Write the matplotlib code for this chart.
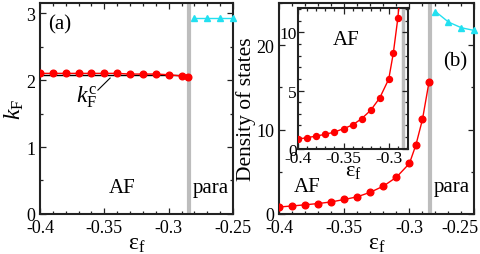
import matplotlib
matplotlib.use("Agg")
import matplotlib.pyplot as plt
import matplotlib.transforms as mtransforms
from matplotlib.ticker import MultipleLocator, FuncFormatter

plt.rcParams['font.family'] = ['Liberation Serif', 'DejaVu Serif']
plt.rcParams['mathtext.fontset'] = 'custom'
plt.rcParams['mathtext.rm'] = 'Liberation Serif'
plt.rcParams['mathtext.it'] = 'Liberation Serif:italic'
plt.rcParams['mathtext.bf'] = 'Liberation Serif:bold'

# ---- data ----
ef_af_a = [-0.40, -0.39, -0.38, -0.37, -0.36, -0.35, -0.34, -0.33, -0.32, -0.31, -0.30, -0.29, -0.285]
kf_af = [2.10, 2.10, 2.10, 2.10, 2.10, 2.10, 2.10, 2.09, 2.09, 2.09, 2.08, 2.06, 2.04]
kfc_x = [-0.40, -0.285]
kfc_y = [2.07, 2.07]
ef_para = [-0.28, -0.27, -0.26, -0.25]
kf_para = [2.92, 2.92, 2.92, 2.92]

ef_af_b = [-0.40, -0.39, -0.38, -0.37, -0.36, -0.35, -0.34, -0.33, -0.32, -0.31, -0.30, -0.295, -0.29, -0.285]
dos_af = [0.83, 0.95, 1.09, 1.24, 1.43, 1.72, 2.04, 2.58, 3.3, 4.36, 5.99, 8.2, 11.2, 15.6]
dos_para = [24.0, 22.75, 22.07, 21.75]

ef_transition = -0.284

red = '#ff0000'
cyan = '#22e0f0'
gray = '#bdbdbd'

fig = plt.figure(figsize=(4.8, 2.55), dpi=100)
axa = fig.add_axes([0.0833, 0.157, 0.4021, 0.827])
axb = fig.add_axes([0.582, 0.157, 0.4065, 0.827])
axi = fig.add_axes([0.6215, 0.413, 0.228, 0.552])

def style(ax, fs=13):
    for s in ax.spines.values():
        s.set_linewidth(1.5)
        s.set_color('#222222')
    ax.tick_params(which='both', direction='in', top=True, right=True, labelsize=fs, width=0.9, color='#222222')
    ax.tick_params(which='major', length=4)
    ax.tick_params(which='minor', length=2.2)
    ax.xaxis.set_major_locator(MultipleLocator(0.05))
    ax.xaxis.set_minor_locator(MultipleLocator(0.01))

def fmt(v, pos=None):
    return ('%.2f' % v).rstrip('0').rstrip('.')

eps_label = r'$\mathrm{ε}_\mathrm{f}$'

# ---- panel (a) ----
style(axa)
axa.axvline(ef_transition, color=gray, lw=3, zorder=1)
axa.plot(kfc_x, kfc_y, color='black', lw=1.0, zorder=2)
axa.plot(ef_af_a, kf_af, '-o', color=red, ms=4.8, lw=1.0, zorder=3)
axa.plot(ef_para, kf_para, '-^', color=cyan, ms=4.8, lw=1.0, zorder=3, clip_on=False)
axa.set_xlim(-0.4, -0.25)
axa.set_ylim(0, 3.15)
axa.yaxis.set_major_locator(MultipleLocator(1))
axa.yaxis.set_minor_locator(MultipleLocator(0.5))
axa.xaxis.set_major_formatter(FuncFormatter(fmt))
axa.set_xlabel(eps_label, fontsize=17, labelpad=-2)
axa.set_ylabel(r'$k_\mathrm{F}$', fontsize=17, labelpad=0)
axa.text(-0.3845, 2.84, '(a)', fontsize=15, va='center', ha='center')
axa.text(-0.336, 0.40, 'AF', fontsize=15, ha='center', va='center')
axa.text(-0.2674, 0.40, 'para', fontsize=15, ha='center', va='center')
axa.plot([-0.355, -0.3455], [1.85, 2.03], color='black', lw=0.8)
axa.text(-0.364, 1.76, r'$k_\mathrm{F}^\mathrm{c}$', fontsize=17, ha='center', va='center')

# ---- panel (b) ----
style(axb)
axb.axvline(ef_transition, color=gray, lw=3, zorder=1)
axb.plot(ef_af_b, dos_af, '-o', color=red, ms=4.8, lw=1.0, zorder=3)
axb.plot(ef_para, dos_para, '-^', color=cyan, ms=4.8, lw=1.0, zorder=3, clip_on=False)
axb.set_xlim(-0.4, -0.25)
axb.set_ylim(0, 25)
axb.yaxis.set_major_locator(MultipleLocator(10))
axb.yaxis.set_minor_locator(MultipleLocator(5))
axb.xaxis.set_major_formatter(FuncFormatter(fmt))
axb.set_xlabel(eps_label, fontsize=17, labelpad=-2)
axb.set_ylabel('Density of states', fontsize=15.5, labelpad=0)
axb.text(-0.2648, 18.1, '(b)', fontsize=15, ha='center', va='center')
axb.text(-0.379, 3.3, 'AF', fontsize=15, ha='center', va='center')
axb.text(-0.2674, 3.2, 'para', fontsize=15, ha='center', va='center')

# keep the last x tick label of (b) inside the figure
fig.canvas.draw()
last = axb.get_xticklabels()[-1]
for lab in axb.get_xticklabels():
    if lab.get_text() == '-0.25':
        lab.set_horizontalalignment('right')
        lab.set_transform(lab.get_transform() + mtransforms.ScaledTranslation(4 / 100, 0, fig.dpi_scale_trans))

# ---- inset ----
style(axi, fs=12.5)
axi.axvline(ef_transition, color=gray, lw=2.5, zorder=1)
axi.plot(ef_af_b, dos_af, '-o', color=red, ms=4.3, lw=1.0, zorder=3)
axi.set_xlim(-0.4, -0.279)
axi.set_ylim(0, 12.1)
axi.yaxis.set_major_locator(MultipleLocator(5))
axi.yaxis.set_minor_locator(MultipleLocator(1))
axi.xaxis.set_major_formatter(FuncFormatter(fmt))
axi.tick_params(which='both', pad=1)
axi.set_xlabel(eps_label, fontsize=16, labelpad=-4)
axi.text(-0.347, 9.42, 'AF', fontsize=15, ha='center', va='center')

fig.savefig('out.png', dpi=100)
